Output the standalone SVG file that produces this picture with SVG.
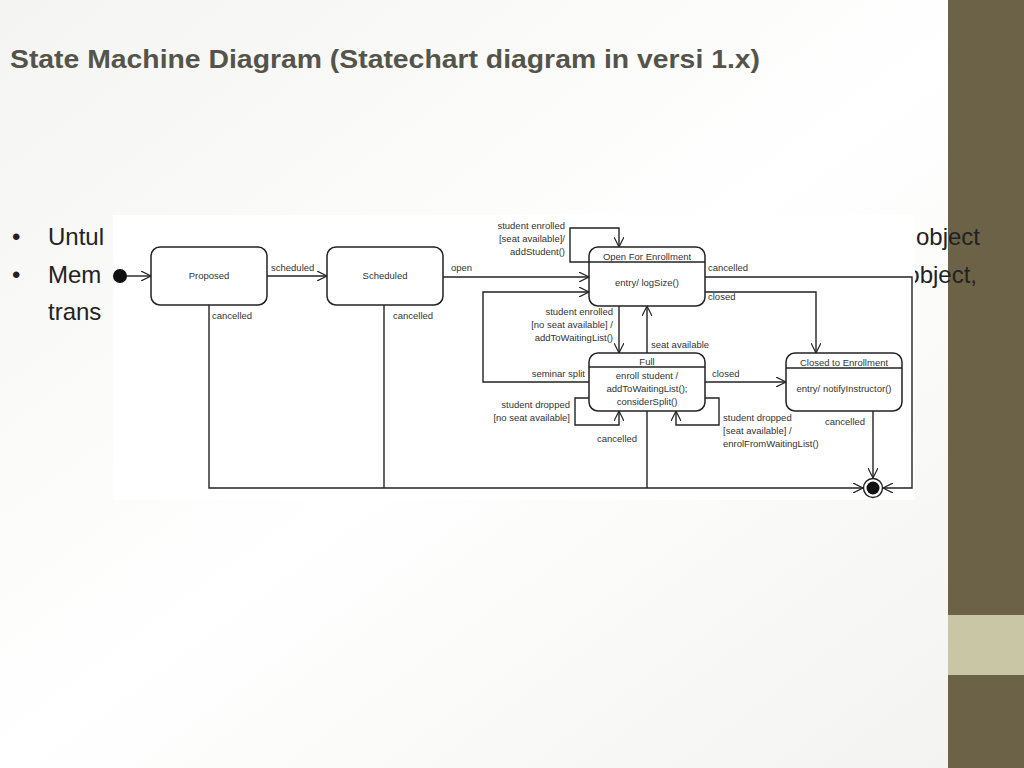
<svg xmlns="http://www.w3.org/2000/svg" width="1024" height="768" viewBox="0 0 1024 768">
<defs>
<linearGradient id="bg" x1="0" y1="0" x2="1" y2="1"><stop offset="0" stop-color="#f4f4f2"/><stop offset="0.5" stop-color="#ffffff"/><stop offset="1" stop-color="#f2f2f0"/></linearGradient>
<marker id="a" markerWidth="12" markerHeight="10" refX="10" refY="5" orient="auto" markerUnits="userSpaceOnUse"><path d="M0,0 L10,5 L0,10" fill="none" stroke="#222" stroke-width="1.2"/></marker>
</defs>
<style>
.st{fill:#fff;stroke:#222;stroke-width:1.5}
.ln{fill:none;stroke:#222;stroke-width:1.4}
.t{font-family:"Liberation Sans",Arial,sans-serif;font-size:9.5px;fill:#333}
.c{text-anchor:middle}
.b{font-family:"Liberation Sans",Arial,sans-serif;font-size:24px;fill:#222}
</style>
<rect width="1024" height="768" fill="url(#bg)"/>
<rect x="948" y="0" width="76" height="768" fill="#6b6248"/>
<rect x="948" y="615" width="76" height="60" fill="#c9c6a6"/>
<text x="10" y="68" font-family="'Liberation Sans',Arial,sans-serif" font-weight="bold" font-size="25" fill="#55544a" textLength="750" lengthAdjust="spacingAndGlyphs">State Machine Diagram (Statechart diagram in versi 1.x)</text>
<text class="b" x="12" y="245">•</text><text class="b" x="48" y="245">Untul</text>
<text class="b" x="12" y="283">•</text><text class="b" x="48" y="283">Mem</text>
<text class="b" x="48" y="320">trans</text>
<text class="b" x="980" y="245" text-anchor="end">object</text>
<text class="b" x="977" y="283" text-anchor="end">object,</text>
<rect x="113" y="215" width="802" height="285" fill="#fff"/>
<g id="connectors">
<path class="ln" d="M124,276 H151" marker-end="url(#a)"/>
<path class="ln" d="M267,276 H327" marker-end="url(#a)"/>
<path class="ln" d="M443,277 H589" marker-end="url(#a)"/>
<path class="ln" d="M589,262 H570 V228 H619 V247" marker-end="url(#a)"/>
<path class="ln" d="M705,277 H912 V488 H883" marker-end="url(#a)"/>
<path class="ln" d="M705,292 H816 V353" marker-end="url(#a)"/>
<path class="ln" d="M619,306 V353" marker-end="url(#a)"/>
<path class="ln" d="M647,353 V306" marker-end="url(#a)"/>
<path class="ln" d="M589,382 H483 V292 H589" marker-end="url(#a)"/>
<path class="ln" d="M705,382 H786" marker-end="url(#a)"/>
<path class="ln" d="M589,398 H575 V425 H619 V411" marker-end="url(#a)"/>
<path class="ln" d="M705,398 H719 V425 H676 V411" marker-end="url(#a)"/>
<path class="ln" d="M209,305 V488 H863" marker-end="url(#a)"/>
<path class="ln" d="M384,305 V488"/>
<path class="ln" d="M647,411 V488"/>
<path class="ln" d="M873,411 V478" marker-end="url(#a)"/>
<text class="t" x="271" y="271">scheduled</text>
<text class="t" x="212" y="319">cancelled</text>
<text class="t" x="393" y="319">cancelled</text>
<text class="t" x="451" y="271">open</text>
<text class="t" x="565" y="229" text-anchor="end">student enrolled</text>
<text class="t" x="565" y="242" text-anchor="end">[seat available]/</text>
<text class="t" x="565" y="255" text-anchor="end">addStudent()</text>
<text class="t" x="708" y="271">cancelled</text>
<text class="t" x="708" y="300">closed</text>
<text class="t" x="613" y="315" text-anchor="end">student enrolled</text>
<text class="t" x="613" y="328" text-anchor="end">[no seat available] /</text>
<text class="t" x="613" y="341" text-anchor="end">addToWaitingList()</text>
<text class="t" x="651" y="348">seat available</text>
<text class="t" x="585" y="377" text-anchor="end">seminar split</text>
<text class="t" x="712" y="377">closed</text>
<text class="t" x="570" y="408" text-anchor="end">student dropped</text>
<text class="t" x="570" y="421" text-anchor="end">[no seat available]</text>
<text class="t" x="597" y="442">cancelled</text>
<text class="t" x="723" y="421">student dropped</text>
<text class="t" x="723" y="434">[seat available] /</text>
<text class="t" x="723" y="447">enrolFromWaitingList()</text>
<text class="t" x="825" y="425">cancelled</text>
</g>
<g id="initial"><circle cx="120" cy="276" r="7" fill="#111"/></g>
<g id="final"><circle cx="873" cy="488" r="9.5" fill="#fff" stroke="#222" stroke-width="1.4"/><circle cx="873" cy="488" r="6.5" fill="#111"/></g>
<g id="proposed"><rect class="st" x="151" y="247" width="116" height="58" rx="9"/><text class="t c" x="209" y="279">Proposed</text></g>
<g id="scheduled"><rect class="st" x="327" y="247" width="116" height="58" rx="9"/><text class="t c" x="385" y="279">Scheduled</text></g>
<g id="open"><rect class="st" x="589" y="247" width="116" height="59" rx="9"/><line class="ln" x1="589" y1="262" x2="705" y2="262"/><text class="t c" x="647" y="260">Open For Enrollment</text><text class="t c" x="647" y="286">entry/ logSize()</text></g>
<g id="full"><rect class="st" x="589" y="353" width="116" height="58" rx="9"/><line class="ln" x1="589" y1="367" x2="705" y2="367"/><text class="t c" x="647" y="365">Full</text><text class="t c" x="647" y="379">enroll student /</text><text class="t c" x="647" y="392">addToWaitingList();</text><text class="t c" x="647" y="405">considerSplit()</text></g>
<g id="closed"><rect class="st" x="786" y="353" width="116" height="58" rx="9"/><line class="ln" x1="786" y1="368" x2="902" y2="368"/><text class="t c" x="844" y="366">Closed to Enrollment</text><text class="t c" x="844" y="392">entry/ notifyInstructor()</text></g>
</svg>
